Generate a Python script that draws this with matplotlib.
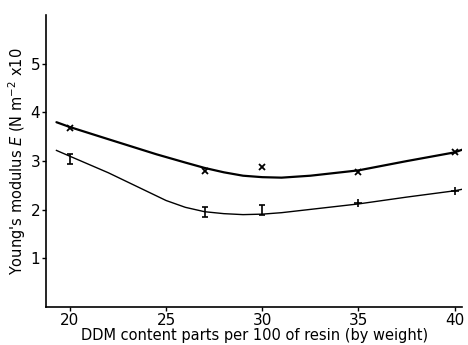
import matplotlib
matplotlib.use("Agg")
import matplotlib.pyplot as plt

# measured points
ddm = [20, 27, 30, 35, 40]
upper_pts = [3.69, 2.80, 2.88, 2.77, 3.18]
lower_pts = [3.05, 1.95, 2.00, 2.13, 2.39]
lower_err = [0.10, 0.10, 0.10, 0.0, 0.0]

# hand-drawn fitted curves
upper_x = [19.3, 20, 22, 24.5, 26, 27, 28, 29, 30, 31, 32.5, 35, 37.5, 40, 40.5]
upper_curve = [3.80, 3.70, 3.45, 3.14, 2.97, 2.86, 2.77, 2.70, 2.67, 2.66, 2.70, 2.81, 3.00, 3.18, 3.25]
lower_x = [19.3, 20, 21, 22, 23, 24, 25, 26, 27, 28, 29, 30, 31, 33, 35, 37.5, 40, 40.5]
lower_curve = [3.22, 3.10, 2.93, 2.76, 2.57, 2.38, 2.19, 2.05, 1.96, 1.92, 1.90, 1.91, 1.94, 2.03, 2.12, 2.26, 2.39, 2.43]

xticks = [20, 25, 30, 35, 40]
yticks = [1, 2, 3, 4, 5]

fig = plt.figure(figsize=(4.68, 3.45), dpi=100)
ax = fig.add_axes([0.098, 0.110, 0.89, 0.846])

ax.plot(upper_x, upper_curve, color="black", lw=1.6, solid_capstyle="round", solid_joinstyle="round")
ax.plot(lower_x, lower_curve, color="black", lw=1.0, solid_joinstyle="round")

ax.plot(ddm, upper_pts, linestyle="none", marker="x", color="black", ms=4, mew=1.3)
ax.errorbar(ddm[:3], lower_pts[:3], yerr=lower_err[:3], fmt="none",
            ecolor="black", elinewidth=1.2, capsize=2.5, capthick=1.2)
ax.plot(ddm[3:], lower_pts[3:], linestyle="none", marker="+", color="black", ms=6, mew=1.2)

ax.set_xlim(18.75, 40.4)
ax.set_ylim(0, 6.0)
ax.set_xticks(xticks)
ax.set_yticks(yticks)
for s in ["top", "right"]:
    ax.spines[s].set_visible(False)
for s in ["left", "bottom"]:
    ax.spines[s].set_linewidth(1.2)
ax.tick_params(direction="out", length=3, width=1, labelsize=11, pad=1)

ax.set_xlabel("DDM content parts per 100 of resin (by weight)", fontsize=10.5, labelpad=0)
ax.set_ylabel("Young's modulus $E$ (N m$^{-2}$ x10", fontsize=10.5, labelpad=2)

fig.savefig("out.png", dpi=100)
